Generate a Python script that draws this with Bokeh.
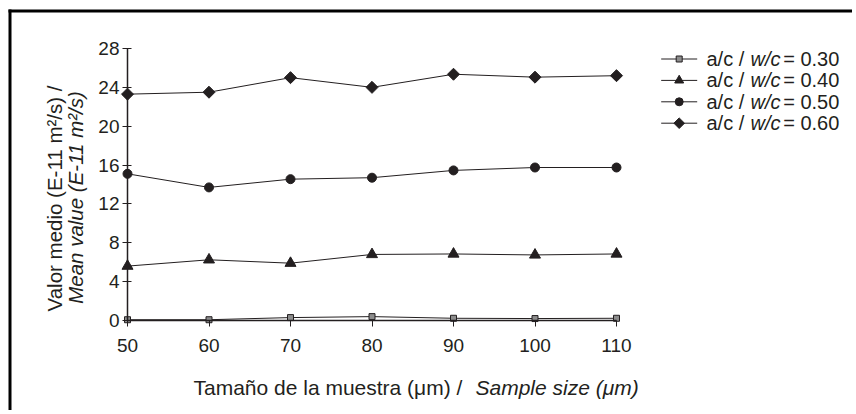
import math
from bokeh.plotting import figure
from bokeh.models import (ColumnDataSource, FixedTicker, Label, Range1d)
from bokeh.embed import file_html
from bokeh.resources import INLINE

# ---- data ----
sample_size = [50, 60, 70, 80, 90, 100, 110]
wc_030 = [0.08, 0.08, 0.30, 0.40, 0.23, 0.20, 0.23]
wc_040 = [5.60, 6.25, 5.90, 6.80, 6.85, 6.75, 6.85]
wc_050 = [15.10, 13.70, 14.55, 14.70, 15.45, 15.75, 15.75]
wc_060 = [23.30, 23.50, 25.00, 24.00, 25.35, 25.05, 25.20]
ratio_labels = ["0.30", "0.40", "0.50", "0.60"]
x_ticks = [50, 60, 70, 80, 90, 100, 110]
y_ticks = [0, 4, 8, 12, 16, 20, 24, 28]

FONT = "Liberation Sans"
INK = "#231f20"
W, H = 852, 410

# pixel geometry of the plotting area (canvas px)
X0_PX, X1_PX = 127.0, 616.0     # where x=50 and x=110 fall
Y0_PX, Y1_PX = 320.0, 48.0      # where y=0 and y=28 fall
sx = (X1_PX - X0_PX) / (x_ticks[-1] - x_ticks[0])
sy = (Y0_PX - Y1_PX) / (y_ticks[-1] - y_ticks[0])
x_range = Range1d(x_ticks[0] - X0_PX / sx, x_ticks[0] + (W - X0_PX) / sx)
y_range = Range1d(y_ticks[0] - (H - Y0_PX) / sy, y_ticks[-1] + Y1_PX / sy)

src = ColumnDataSource(dict(x=sample_size, a=wc_030, b=wc_040, c=wc_050, d=wc_060))

p = figure(width=W, height=H, output_backend="svg", toolbar_location=None,
           x_range=x_range, y_range=y_range,
           min_border_left=0, min_border_right=0, min_border_top=0, min_border_bottom=0,
           outline_line_color=None, background_fill_color="white", border_fill_color="white")
p.grid.visible = False
# pixel-space ranges for the hand-made legend keys and the outer frame
p.extra_x_ranges = {"px": Range1d(0, W)}
p.extra_y_ranges = {"px": Range1d(H, 0)}

xa = p.xaxis[0]
xa.fixed_location = y_ticks[0]
xa.bounds = (x_ticks[0], x_ticks[-1])
xa.ticker = FixedTicker(ticks=x_ticks)
xa.major_tick_in = 0
xa.major_tick_out = 6
xa.minor_tick_line_color = None
xa.axis_line_width = 1.5
xa.axis_line_color = INK
xa.major_tick_line_color = INK
xa.major_label_text_font = FONT
xa.major_label_text_font_size = "19px"
xa.major_label_text_color = INK
xa.major_label_standoff = 12

ya = p.yaxis[0]
ya.fixed_location = x_ticks[0]
ya.bounds = (y_ticks[0], y_ticks[-1])
ya.ticker = FixedTicker(ticks=y_ticks)
ya.major_tick_in = 4
ya.major_tick_out = 5
ya.minor_tick_line_color = None
ya.axis_line_width = 1.5
ya.axis_line_color = INK
ya.major_tick_line_color = INK
ya.major_label_text_font = FONT
ya.major_label_text_font_size = "19px"
ya.major_label_text_color = INK
ya.major_label_standoff = 3

# (column, marker, size, fill, angle, legend size)
series = [
    ("a", "square", 6, "#8c8c8c", 0, 6),
    ("b", "triangle", 11, INK, 0, 9),
    ("c", "circle", 9, INK, 0, 8),
    ("d", "square", 8.5, INK, math.pi / 4, 7.5),
]

# legend layout (canvas px)
LEG_X0, LEG_X1 = 660.7, 696.7
LEG_ROW0, LEG_DY = 58.5, 21.4
LEG_TEXT_X = 706

for i, (col, mk, sz, fill, ang, lsz) in enumerate(series):
    p.line("x", col, source=src, line_color=INK, line_width=1)
    p.scatter("x", col, source=src, marker=mk, size=sz, angle=ang,
              fill_color=fill, line_color=INK, line_width=1)
    yrow = LEG_ROW0 + LEG_DY * i
    key = ColumnDataSource(dict(x0=[LEG_X0], x1=[LEG_X1], xm=[(LEG_X0 + LEG_X1) / 2], y=[yrow]))
    p.segment("x0", "y", "x1", "y", source=key, x_range_name="px", y_range_name="px",
              line_color=INK, line_width=1)
    p.scatter("xm", "y", source=key, x_range_name="px", y_range_name="px",
              marker=mk, size=lsz, angle=ang, fill_color=fill, line_color=INK, line_width=1)
    ys = H - yrow
    r = ratio_labels[i]
    p.add_layout(Label(x=LEG_TEXT_X, y=ys, x_units="screen", y_units="screen", text="a/c /",
                       text_font=FONT, text_font_size="20px", text_color=INK, text_baseline="middle"))
    p.add_layout(Label(x=LEG_TEXT_X + 44, y=ys, x_units="screen", y_units="screen", text="w/c",
                       text_font=FONT, text_font_size="20px", text_font_style="italic",
                       text_color=INK, text_baseline="middle"))
    p.add_layout(Label(x=LEG_TEXT_X + 76.7, y=ys, x_units="screen", y_units="screen", text="= " + r,
                       text_font=FONT, text_font_size="20px", text_color=INK, text_baseline="middle"))

# axis titles
p.add_layout(Label(x=54, y=H - 198, x_units="screen", y_units="screen", angle=math.pi / 2,
                   text="Valor medio (E-11 m²/s) /", text_align="center", text_baseline="alphabetic",
                   text_font=FONT, text_font_size="20.5px", text_color=INK))
p.add_layout(Label(x=75, y=H - 197, x_units="screen", y_units="screen", angle=math.pi / 2,
                   text="Mean value (E-11 m²/s)", text_align="center", text_baseline="alphabetic",
                   text_font=FONT, text_font_size="20.5px", text_font_style="italic", text_color=INK))
p.add_layout(Label(x=193, y=H - 386.5, x_units="screen", y_units="screen",
                   text="Tamaño de la muestra (μm) /", text_baseline="alphabetic",
                   text_font=FONT, text_font_size="21px", text_color=INK))
p.add_layout(Label(x=475, y=H - 386.5, x_units="screen", y_units="screen",
                   text="Sample size (μm)", text_baseline="alphabetic",
                   text_font=FONT, text_font_size="21px", text_font_style="italic", text_color=INK))

# outer frame: only its top and left edges fall within the window
FRAME_L, FRAME_T = 9.5, 10.5
frame_src = ColumnDataSource(dict(x0=[FRAME_L, FRAME_L], y0=[FRAME_T, FRAME_T],
                                  x1=[W + 10, FRAME_L], y1=[FRAME_T, H + 10]))
p.segment("x0", "y0", "x1", "y1", source=frame_src, x_range_name="px", y_range_name="px",
          line_color="black", line_width=3, line_cap="square")

open("out.html", "w").write(file_html(p, INLINE))
